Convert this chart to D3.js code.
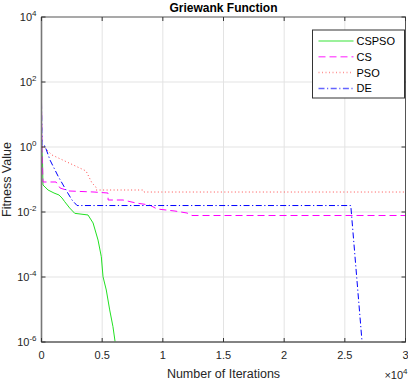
<!DOCTYPE html>
<html>
<head>
<meta charset="utf-8">
<script src="https://cdn.jsdelivr.net/npm/d3@7"></script>
<style>
  body { margin: 0; background: #fff; }
  svg text { font-family: "Liberation Sans", Arial, sans-serif; fill: #262626; }
</style>
</head>
<body>
<svg id="chart" width="408" height="382"></svg>
<script>
// iterations (raw) and fitness values
const cspsoIter = [0, 80, 120, 540, 1030, 1440, 1690, 1910, 2320, 2740, 3830, 4250, 4660, 4930, 5070, 5340, 5620, 5890, 6080];
const cspsoVal = [1.15, 0.398, 0.0678, 0.0475, 0.0384, 0.0334, 0.027, 0.0208, 0.0133, 0.0091, 0.0081, 0.0046, 0.00137, 4.2e-4, 1.02e-4, 3.98e-5, 9.7e-6, 2.96e-6, 9.3e-7];

const csIter = [0, 40, 120, 1200, 1530, 2270, 4330, 5480, 5490, 6720, 7790, 8910, 9520, 11000, 12000, 12400, 30000];
const csVal = [25, 1.0, 0.0838, 0.0838, 0.0547, 0.0443, 0.0412, 0.0384, 0.0234, 0.0234, 0.0189, 0.0164, 0.0124, 0.0107, 0.0093, 0.0078, 0.0078];

const psoIter = [0, 210, 870, 2270, 3670, 4160, 4490, 4500, 8370, 8450, 30000];
const psoVal = [1.0, 1.0, 0.567, 0.322, 0.183, 0.078, 0.0587, 0.0475, 0.0475, 0.0412, 0.0412];

const deIter = [0, 40, 290, 700, 1360, 2020, 2510, 2930, 25490, 26420];
const deVal = [22.6, 1.07, 1.07, 0.398, 0.128, 0.0475, 0.0234, 0.0158, 0.0158, 1e-6];

const xTicks = [0, 5000, 10000, 15000, 20000, 25000, 30000];
const xTickLabels = ["0", "0.5", "1", "1.5", "2", "2.5", "3"];
const yTicks = [1e-6, 1e-4, 1e-2, 1e0, 1e2, 1e4];
const yTickExp = ["-6", "-4", "-2", "0", "2", "4"];

const seriesNames = ["CSPSO", "CS", "PSO", "DE"];

var margin = { top: 17, right: 2.5, bottom: 40, left: 41.5 };
const svgRoot = d3.select("#chart");
var width = 408 - margin.left - margin.right;
var height = 382 - margin.top - margin.bottom;

const svg = svgRoot.append("g").attr("transform", `translate(${margin.left},${margin.top})`);

const x = d3.scaleLinear().domain([0, 30000]).range([0, width]);
const y = d3.scaleLog().domain([1e-6, 1e4]).range([height, 0]);

// grid
svg.append("g")
  .selectAll("line")
  .data(xTicks.slice(1, -1))
  .enter().append("line")
  .attr("x1", d => x(d)).attr("x2", d => x(d))
  .attr("y1", 0).attr("y2", height)
  .style("stroke", "#e3e3e3");
svg.append("g")
  .selectAll("line")
  .data(yTicks.slice(1, -1))
  .enter().append("line")
  .attr("y1", d => y(d)).attr("y2", d => y(d))
  .attr("x1", 0).attr("x2", width)
  .style("stroke", "#e3e3e3");

svg.append("defs").append("clipPath").attr("id", "clip")
  .append("rect").attr("width", width).attr("height", height);

const line = d3.line().x(d => x(d[0])).y(d => y(d[1]));

const series = [
  { name: "CSPSO", iter: cspsoIter, val: cspsoVal, color: "#22e022", dash: null },
  { name: "CS", iter: csIter, val: csVal, color: "#ff00ff", dash: "7,4" },
  { name: "PSO", iter: psoIter, val: psoVal, color: "#ff4d4d", dash: "1,2.5" },
  { name: "DE", iter: deIter, val: deVal, color: "#0000ff", dash: "6,2.5,1.2,2.5" }
];

const plot = svg.append("g").attr("clip-path", "url(#clip)");
plot.selectAll(".line")
  .data(series)
  .enter().append("path")
  .attr("class", "line")
  .attr("d", d => line(d.iter.map((it, i) => [it, d.val[i]])))
  .style("fill", "none")
  .style("stroke", d => d.color)
  .style("stroke-width", 1)
  .style("stroke-dasharray", d => d.dash);

// axes box
const axisColor = "#555";
svg.append("rect").attr("width", width).attr("height", height)
  .style("fill", "none").style("stroke", axisColor).style("stroke-width", 1);
svg.append("line").attr("x1", 0).attr("x2", 0).attr("y1", 0).attr("y2", height)
  .style("stroke", "#777").style("stroke-width", 1.6);
svg.append("line").attr("x1", 0).attr("x2", width).attr("y1", height).attr("y2", height)
  .style("stroke", "#777").style("stroke-width", 1.6);

// ticks (inward, all sides)
const tl = 4;
xTicks.forEach(t => {
  svg.append("line").attr("x1", x(t)).attr("x2", x(t)).attr("y1", height).attr("y2", height - tl).style("stroke", "#333");
  svg.append("line").attr("x1", x(t)).attr("x2", x(t)).attr("y1", 0).attr("y2", tl).style("stroke", "#333");
});
yTicks.forEach(t => {
  svg.append("line").attr("y1", y(t)).attr("y2", y(t)).attr("x1", 0).attr("x2", tl).style("stroke", "#333");
  svg.append("line").attr("y1", y(t)).attr("y2", y(t)).attr("x1", width).attr("x2", width - tl).style("stroke", "#333");
});

// x tick labels
svg.selectAll(".xlab")
  .data(xTicks)
  .enter().append("text")
  .attr("x", d => x(d))
  .attr("y", height + 17)
  .attr("text-anchor", "middle")
  .style("font-size", "11px")
  .text((d, i) => xTickLabels[i]);

// y tick labels 10^n
yTicks.forEach((t, i) => {
  const tx = svg.append("text")
    .attr("x", -5)
    .attr("y", y(t) + 4)
    .attr("text-anchor", "end")
    .style("font-size", "11px");
  tx.append("tspan").text("10");
  tx.append("tspan").attr("dy", -5).style("font-size", "8px").text(yTickExp[i]);
});

// x10^4 multiplier
const mult = svg.append("text")
  .attr("x", width + 2)
  .attr("y", height + 37)
  .attr("text-anchor", "end")
  .style("font-size", "11px");
mult.append("tspan").text("\u00d710");
mult.append("tspan").attr("dy", -5).style("font-size", "8px").text("4");

// title and axis labels
svg.append("text")
  .attr("x", width / 2)
  .attr("y", -5)
  .attr("text-anchor", "middle")
  .style("font-size", "12px")
  .style("font-weight", "bold")
  .style("fill", "#000")
  .text("Griewank Function");

svg.append("text")
  .attr("x", width / 2)
  .attr("y", height + 36)
  .attr("text-anchor", "middle")
  .style("font-size", "12.5px")
  .text("Number of Iterations");

svg.append("text")
  .attr("transform", "rotate(-90)")
  .attr("x", -height / 2)
  .attr("y", -31)
  .attr("text-anchor", "middle")
  .style("font-size", "12.5px")
  .text("Fitness Value");

// legend
const lg = svg.append("g").attr("transform", `translate(${width - 93},13)`);
lg.append("rect").attr("width", 92).attr("height", 68)
  .style("fill", "#fff").style("stroke", "#333").style("stroke-width", 1);
lg.selectAll("line")
  .data(series)
  .enter().append("line")
  .attr("x1", 6).attr("x2", 41)
  .attr("y1", (d, i) => 11 + i * 15.8).attr("y2", (d, i) => 11 + i * 15.8)
  .style("stroke", d => d.color)
  .style("stroke-width", 1.5)
  .style("opacity", 0.6)
  .style("stroke-dasharray", d => d.dash);
lg.selectAll("text")
  .data(seriesNames)
  .enter().append("text")
  .attr("x", 44)
  .attr("y", (d, i) => 15 + i * 15.8)
  .style("font-size", "11px")
  .style("fill", "#000")
  .text(d => d);
</script>
</body>
</html>
